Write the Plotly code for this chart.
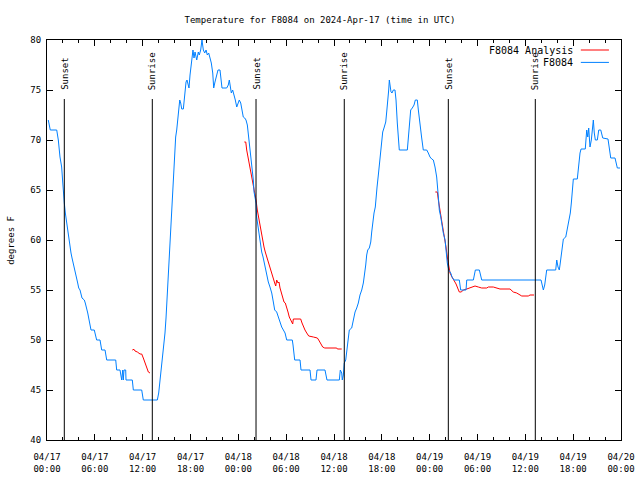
import pandas as pd
import plotly.graph_objects as go

# ---------------- data ----------------
START = "2024-04-17 00:00"

# F8084 observations: hours since START, temperature (deg F)
obs_hours = [
    0.16, 0.41, 1.22, 1.42, 1.63, 1.84, 1.97, 2.04, 2.17, 2.30, 2.47, 2.60, 2.76, 2.89, 3.01, 3.14,
    3.30, 3.42, 3.55, 3.73, 3.85, 3.98, 4.14, 4.39, 4.68, 4.80, 4.98, 5.11, 5.23, 5.39, 5.52, 5.93,
    6.11, 6.23, 6.65, 6.86, 7.28, 7.49, 8.62, 8.74, 9.16, 9.37, 9.50, 9.57, 9.66, 9.87, 9.91, 10.70,
    10.83, 11.88, 12.08, 13.84, 14.01, 14.14, 14.30, 14.43, 14.55, 14.68, 14.80, 14.93, 15.05, 15.18,
    15.30, 15.43, 15.55, 15.68, 15.77, 15.89, 16.02, 16.14, 16.27, 16.40, 16.52, 16.65, 16.77, 16.90,
    17.10, 17.19, 17.31, 17.44, 17.56, 17.69, 17.81, 17.94, 18.06, 18.19, 18.31, 18.44, 18.57, 18.78,
    18.98, 19.10, 19.28, 19.44, 19.61, 19.78, 19.95, 20.11, 20.28, 20.45, 20.61, 20.79, 20.91, 21.07,
    21.29, 21.45, 21.70, 21.83, 21.95, 22.54, 22.74, 22.87, 22.99, 23.12, 23.29, 23.46, 23.62, 23.80,
    23.96, 24.12, 24.30, 24.46, 24.62, 24.80, 24.96, 25.13, 25.25, 25.38, 25.55, 25.72, 25.88, 25.97,
    26.22, 26.30, 26.47, 26.63, 26.81, 26.93, 27.10, 27.26, 27.43, 27.60, 27.76, 27.97, 28.19, 28.39,
    28.56, 28.81, 29.01, 29.23, 29.44, 29.64, 29.86, 30.07, 30.77, 30.86, 30.95, 31.07, 31.74, 31.86,
    32.99, 33.12, 33.74, 33.87, 34.87, 35.12, 36.67, 36.79, 36.97, 37.04, 37.17, 37.29, 37.47, 37.59,
    37.72, 37.80, 37.92, 38.22, 38.42, 38.51, 38.64, 38.85, 39.05, 39.26, 39.48, 39.68, 39.85, 39.98,
    40.10, 40.23, 40.43, 40.61, 40.73, 40.86, 41.02, 41.18, 41.27, 41.40, 41.56, 41.68, 41.81, 41.99,
    42.11, 42.27, 42.49, 42.61, 42.74, 42.86, 42.94, 43.06, 43.15, 43.28, 43.44, 43.65, 43.78, 43.94,
    44.12, 44.19, 45.20, 45.32, 45.45, 45.62, 45.82, 46.04, 46.20, 46.45, 46.58, 46.70, 46.88, 47.00,
    47.20, 47.63, 47.83, 48.04, 48.26, 48.46, 48.67, 48.88, 49.09, 49.21, 49.39, 49.55, 49.71, 49.93,
    50.05, 50.21, 50.39, 50.64, 50.80, 51.05, 51.72, 51.89, 52.56, 52.65, 53.48, 53.73, 54.23, 54.53,
    61.97, 62.13, 62.26, 62.43, 62.56, 62.68, 63.81, 63.94, 64.10, 64.26, 64.35, 64.48, 64.64, 64.77,
    65.07, 65.19, 65.36, 65.52, 65.64, 65.77, 65.89, 66.02, 66.52, 66.70, 66.86, 66.99, 67.52, 67.70,
    67.83, 67.95, 68.11, 68.28, 68.40, 68.53, 68.65, 68.78, 69.03, 69.21, 69.46, 69.71, 70.37, 70.54,
    70.71, 71.25, 71.38, 71.54, 71.88,
]
obs_temp = [
    72, 71, 71, 70, 68.3, 67.3, 65.8, 64.8, 63.7, 62.7, 61.7, 60.7, 59.8, 59.2, 58.7, 58.2,
    57.7, 57.2, 56.7, 56.2, 55.7, 55.2, 55, 54.2, 54, 53.7, 53.2, 52.7, 52.2, 51.5, 51, 51,
    50.5, 50, 50, 49, 49, 48, 48, 47, 47, 46, 47, 46, 47, 47, 46, 46,
    45, 45, 44, 44, 44.7, 45.7, 46.7, 47.7, 48.5, 49.5, 50.7, 52.2, 54, 56,
    58, 60, 62.2, 64.5, 65.7, 67.7, 69.3, 70.3, 71, 72.3, 73.3, 74, 73.7, 73.1,
    73.1, 74, 75.2, 75.8, 76, 75.7, 75.2, 76.5, 77.5, 78, 79, 78.2, 78.8, 78,
    78.8, 78.5, 79, 80, 79, 78.7, 79, 78.5, 78.7, 78.2, 77.7, 76.7, 75.2, 75.8,
    76.5, 77, 77, 76.2, 75.2, 75.2, 75.5, 76, 75.5, 74.7, 75, 74.3, 74, 73.3,
    73.8, 74, 73.7, 73, 72.3, 72.2, 72, 71.5, 70.7, 69.7, 68.7, 67.3, 66, 64.8,
    63.7, 62.3, 61.3, 60.3, 59.5, 58.8, 58.3, 57.7, 57, 56.3, 55.8, 55.3, 54.7, 53.8,
    53, 52.8, 52.2, 51.8, 51.3, 51, 50.7, 50, 50, 49.5, 48.7, 48, 48, 47,
    47, 46, 46, 47, 47, 46, 46, 47, 46.7, 46, 46.5, 47.7, 48, 48.8,
    49.3, 50, 51, 51.2, 52, 52.3, 52.8, 53.2, 53.7, 54.5, 55, 55.7, 56.5, 57.5,
    58.5, 59, 59.2, 59.8, 60.8, 62, 62.7, 63.3, 64.7, 65.3, 66.5, 67.5, 68.5, 69.7,
    70.8, 71.2, 71.8, 72.8, 73.7, 75, 76, 75.2, 74.8, 74.7, 75, 75, 74, 71.7,
    70, 69, 69, 70.3, 71.8, 73, 73.2, 73.5, 74, 74, 73, 72, 71, 70.2,
    69, 69, 68.7, 68.3, 68.1, 68, 67.3, 66.3, 64.3, 63, 62.3, 61.3, 60.7, 60,
    58.8, 57.7, 57, 56.7, 56.3, 56, 56, 55, 55, 56, 56, 57, 57, 56,
    56, 55.5, 55, 55.5, 56.2, 57, 57, 58, 57.3, 57, 57.5, 58.5, 59.3, 60.1,
    60.3, 60.8, 61.3, 62, 62.7, 63.7, 64.7, 66.1, 66.1, 67.7, 68.7, 69.1, 69.1, 71,
    70.3, 71.2, 69.3, 70, 71.3, 72, 70.7, 70, 70, 71, 71, 70.2, 70.1, 69.2,
    68.2, 68.2, 67.7, 67.2, 67.2,
]

# F8084 Analysis (three separate segments)
ana1_hours = [10.70, 10.91, 11.04, 11.33, 11.67, 11.88, 12.08, 12.29, 12.51, 12.71, 12.92]
ana1_temp = [49, 49.07, 48.9, 48.8, 48.6, 48.6, 48.2, 47.7, 47.2, 46.8, 46.7]

ana2_hours = [24.75, 24.93, 25.05, 25.21, 25.38, 25.55, 25.72, 25.88, 26.05, 26.22, 26.38, 26.56,
              26.72, 26.88, 27.06, 27.22, 27.38, 27.56, 27.72, 27.89, 28.06, 28.22, 28.39, 28.56,
              28.69, 28.81, 28.98, 29.10, 29.23, 29.39, 29.57, 29.73, 29.89, 30.07, 30.23, 30.39,
              30.57, 30.70, 30.82, 30.90, 31.82, 31.99, 32.15, 32.36, 32.58, 32.83, 33.41, 33.91,
              34.08, 34.33, 34.58, 34.84, 36.34, 36.42, 36.97]
ana2_temp = [69.8, 69.8, 69, 68.3, 67.7, 67, 66.3, 65.7, 65, 64, 63, 62.2,
             61.3, 60.7, 60, 59.3, 58.8, 58.3, 57.8, 57.5, 57, 56.5, 56, 55.7,
             55.4, 56, 55.7, 55.8, 55.2, 54.7, 54.2, 53.8, 53.7, 53.3, 52.8, 52.3,
             52, 51.7, 51.6, 52.1, 52.1, 51.7, 51.3, 51, 50.7, 50.4, 50.3, 50.2,
             50, 49.7, 49.3, 49.2, 49.2, 49.1, 49.1]

ana3_hours = [48.71, 48.96, 49.09, 49.21, 49.39, 49.55, 49.71, 49.89, 50.05, 50.21, 50.39, 50.55,
              50.80, 51.05, 51.31, 51.56, 51.72, 51.97, 52.22, 52.65, 53.06, 53.69, 54.10, 54.53,
              55.16, 55.36, 55.98, 56.41, 56.82, 58.08, 58.49, 58.92, 59.33, 59.55, 60.37, 60.59,
              61.09]
ana3_temp = [64.8, 64.8, 64, 63.2, 62.5, 61.7, 61, 60.3, 59.3, 58.3, 57.3, 56.7,
             56.3, 56, 55.6, 55.1, 54.8, 54.8, 55, 55.1, 55.2, 55.4, 55.3, 55.2,
             55.2, 55.3, 55.3, 55.2, 55.1, 55.1, 54.8, 54.7, 54.5, 54.4, 54.4, 54.5,
             54.5]

# Sun events (hours since START)
sun_hours = [2.17, 13.21, 26.22, 37.29, 50.34, 61.25]
sun_labels = ["Sunset", "Sunrise", "Sunset", "Sunrise", "Sunset", "Sunrise"]
sun_line_top = 74.1
sun_label_base = 74.8

# Axis ticks
tick_hours = [0, 6, 12, 18, 24, 30, 36, 42, 48, 54, 60, 66, 72]
tick_labels = ["04/17<br>00:00", "04/17<br>06:00", "04/17<br>12:00", "04/17<br>18:00",
               "04/18<br>00:00", "04/18<br>06:00", "04/18<br>12:00", "04/18<br>18:00",
               "04/19<br>00:00", "04/19<br>06:00", "04/19<br>12:00", "04/19<br>18:00",
               "04/20<br>00:00"]
minor_tick_hours = [h for h in range(0, 73, 2)]
y_range = [40, 80]

TITLE = "Temperature for F8084 on 2024-Apr-17 (time in UTC)"
YLABEL = "degrees F"
NAME_ANA = "F8084 Analysis"
NAME_OBS = "F8084"

# ---------------- build ----------------
base = pd.Timestamp(START)


def to_time(hours):
    return [base + pd.Timedelta(hours=h) for h in hours]


ana_x = to_time(ana1_hours) + [None] + to_time(ana2_hours) + [None] + to_time(ana3_hours)
ana_y = ana1_temp + [None] + ana2_temp + [None] + ana3_temp

FONT = "DejaVu Sans Mono, Liberation Mono, monospace"
RED = "#ff0000"
BLUE = "#0080ff"

FIG_W, FIG_H = 640, 480

fig = go.Figure()
fig.add_trace(go.Scatter(x=ana_x, y=ana_y, mode="lines", name=NAME_ANA,
                         line=dict(color=RED, width=1), connectgaps=False, showlegend=False))
fig.add_trace(go.Scatter(x=to_time(obs_hours), y=obs_temp, mode="lines", name=NAME_OBS,
                         line=dict(color=BLUE, width=1), showlegend=False))

for h, lab in zip(sun_hours, sun_labels):
    t = base + pd.Timedelta(hours=h)
    fig.add_shape(type="line", xref="x", yref="y", x0=t, x1=t, y0=y_range[0], y1=sun_line_top,
                  line=dict(color="black", width=1))
    fig.add_annotation(x=t, y=sun_label_base, xref="x", yref="y", text=lab, textangle=-90,
                       showarrow=False, xanchor="center", yanchor="bottom",
                       font=dict(family=FONT, size=9, color="black"))

# manual gnuplot-style key (text right-justified, sample to the right)
for i, (name, col) in enumerate([(NAME_ANA, RED), (NAME_OBS, BLUE)]):
    yp = 0.975 - i * 0.031
    fig.add_annotation(x=0.919, y=yp, xref="paper", yref="paper", text=name, showarrow=False,
                       xanchor="right", yanchor="middle",
                       font=dict(family=FONT, size=10, color="black"))
    fig.add_shape(type="line", xref="paper", yref="paper", x0=0.930, x1=0.979, y0=yp, y1=yp,
                  line=dict(color=col, width=1))

fig.add_annotation(x=-0.063, y=0.5, xref="paper", yref="paper", text=YLABEL, textangle=-90,
                   showarrow=False, xanchor="center", yanchor="middle",
                   font=dict(family=FONT, size=9, color="black"))

fig.update_layout(
    width=FIG_W, height=FIG_H, autosize=False,
    margin=dict(l=47, r=19, t=40, b=40, autoexpand=False),
    paper_bgcolor="white", plot_bgcolor="white",
    font=dict(family=FONT, size=9, color="black"),
    title=dict(text=TITLE, x=0.5, xref="container", xanchor="center",
               y=1 - 20 / FIG_H, yref="container", yanchor="middle",
               font=dict(family=FONT, size=9, color="black")),
    showlegend=False,
)
fig.update_xaxes(
    range=[base, base + pd.Timedelta(hours=tick_hours[-1])],
    tickmode="array", tickvals=to_time(tick_hours), ticktext=tick_labels,
    ticks="inside", ticklen=6, tickcolor="black", tickwidth=1,
    minor=dict(tickmode="array", tickvals=to_time(minor_tick_hours), ticks="inside",
               ticklen=3, tickcolor="black", tickwidth=1, showgrid=False),
    showline=True, linecolor="black", linewidth=1, mirror="ticks",
    showgrid=False, zeroline=False, ticklabelstandoff=8, automargin=False,
    tickfont=dict(family=FONT, size=9, color="black"),
)
fig.update_yaxes(
    range=y_range, tickmode="linear", tick0=40, dtick=5,
    ticks="inside", ticklen=6, tickcolor="black", tickwidth=1,
    showline=True, linecolor="black", linewidth=1, mirror="ticks",
    showgrid=False, zeroline=False, ticklabelstandoff=3, automargin=False,
    tickfont=dict(family=FONT, size=9, color="black"),
)

fig.write_html(
    "out.html",
    config={"responsive": False, "displayModeBar": False},
    post_script="document.body.style.margin='0px';document.body.style.overflow='hidden';",
)
